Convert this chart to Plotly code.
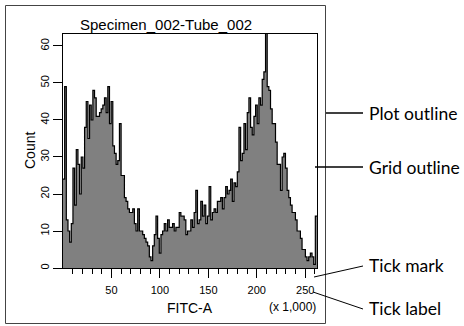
import plotly.graph_objects as go

W, H = 464, 326

# ---- data ----
counts = [
    24, 49, 13, 10, 7, 12, 27, 17, 32, 28, 20, 30, 27, 38, 45, 35, 44, 40, 48, 46,
    41, 41, 42, 43, 44, 46, 42, 49, 39, 45, 33, 31, 28, 29, 39, 25, 25, 19,
    18, 16, 15, 15, 16, 12, 10, 16, 10, 10, 9, 8, 7, 6, 3, 2, 6, 9, 14, 8, 4, 9,
    10, 12, 10, 13, 11, 11, 12, 10, 11, 11, 15, 14, 14, 13, 9, 10,
    10, 13, 11, 15, 21, 12, 13, 18, 14, 17, 12, 14, 22, 13, 15, 16, 15, 18, 18, 19,
    16, 19, 22, 20, 21, 24, 18, 23, 22, 26, 38, 29, 31, 39, 32, 42, 46, 38, 36,
    41, 44, 39, 46, 44, 51, 53, 75, 49, 48, 43, 39, 39, 34, 28, 28, 21, 30, 31, 27,
    21, 19, 17, 15, 15, 13, 10, 10, 8, 5, 5, 3, 2, 3, 4, 3, 1, 14,
]
x_max = 262.144          # FITC-A scale in thousands
y_max = 63.24
x_major = [50, 100, 150, 200, 250]
x_minor = [v for v in range(10, 270, 10) if v % 50 != 0]
y_ticks = [0, 10, 20, 30, 40, 50, 60]
title_text = "Specimen_002-Tube_002"
x_title = "FITC-A"
y_title = "Count"
x_scale_note = "(x 1,000)"
callouts = ["Plot outline", "Grid outline", "Tick mark", "Tick label"]

# bin edges derived from the axis scale
bw = x_max / len(counts)
edges = [i * bw for i in range(len(counts) + 1)]
ys = counts + [counts[-1]]

def px(x):
    return x / W

def py(y):
    return 1 - y / H

fig = go.Figure()
fig.add_trace(go.Scatter(
    x=edges, y=ys, mode="lines", line=dict(shape="hv", color="black", width=1.2),
    fill="tozeroy", fillcolor="#808080", hoverinfo="skip", showlegend=False,
))

chart_font = "Liberation Sans, Arial, sans-serif"

fig.update_layout(
    width=W, height=H,
    margin=dict(l=0, r=0, t=0, b=0),
    paper_bgcolor="white", plot_bgcolor="white",
    showlegend=False,
    xaxis=dict(
        domain=[px(63), px(317)], range=[0, x_max],
        showgrid=False, zeroline=False,
        showline=True, linecolor="black", linewidth=1, mirror=True,
        tickmode="array", tickvals=x_major, ticktext=[str(v) for v in x_major],
        ticks="outside", ticklen=9, tickwidth=1, tickcolor="black",
        ticklabelstandoff=3,
        tickfont=dict(family=chart_font, size=11, color="black"),
        minor=dict(tickmode="array", tickvals=x_minor, ticks="outside",
                   ticklen=5, tickwidth=1, tickcolor="black", showgrid=False),
    ),
    yaxis=dict(
        domain=[py(268), py(34)], range=[0, y_max],
        showgrid=False, zeroline=False,
        showline=True, linecolor="black", linewidth=1, mirror=True,
        tickmode="array", tickvals=y_ticks, ticktext=[str(v) for v in y_ticks],
        ticks="outside", ticklen=9, tickwidth=1, tickcolor="black",
        tickangle=-90, ticklabelstandoff=0,
        tickfont=dict(family=chart_font, size=11, color="black"),
    ),
)

shapes = [
    # plot outline
    dict(type="rect", xref="paper", yref="paper",
         x0=px(5.5), x1=px(325.5), y0=py(323.5), y1=py(5.5),
         line=dict(color="#444444", width=1)),
    # callout leader lines
    dict(type="line", xref="paper", yref="paper",
         x0=px(326), y0=py(113), x1=px(363), y1=py(113),
         line=dict(color="black", width=1.5)),
    dict(type="line", xref="paper", yref="paper",
         x0=px(315), y0=py(167), x1=px(363), y1=py(167),
         line=dict(color="black", width=1.5)),
    dict(type="line", xref="paper", yref="paper",
         x0=px(314), y0=py(277), x1=px(363), y1=py(266),
         line=dict(color="black", width=1)),
    dict(type="line", xref="paper", yref="paper",
         x0=px(313), y0=py(292), x1=px(363), y1=py(309),
         line=dict(color="black", width=1)),
]
fig.update_layout(shapes=shapes)

ann = [
    dict(text=title_text, x=px(166), y=py(24), font=dict(family=chart_font, size=15, color="black")),
    dict(text=y_title, x=px(30), y=py(151), textangle=-90, font=dict(family=chart_font, size=14, color="black")),
    dict(text=x_title, x=px(190), y=py(308), font=dict(family=chart_font, size=14, color="black")),
    dict(text=x_scale_note, x=px(292), y=py(307), font=dict(family=chart_font, size=12, color="black")),
]
callout_y = [113, 167, 265, 308]
for t, yy in zip(callouts, callout_y):
    ann.append(dict(text=t, x=px(367), y=py(yy), xanchor="left",
                    font=dict(family="Lato, sans-serif", size=17.5, color="black")))
for a in ann:
    a.setdefault("xanchor", "center")
    a.update(xref="paper", yref="paper", yanchor="middle", showarrow=False)
fig.update_layout(annotations=ann)

fig.write_html(
    "out.html",
    config={"displayModeBar": False},
    post_script="document.body.style.margin='0';document.body.style.overflow='hidden';",
)
